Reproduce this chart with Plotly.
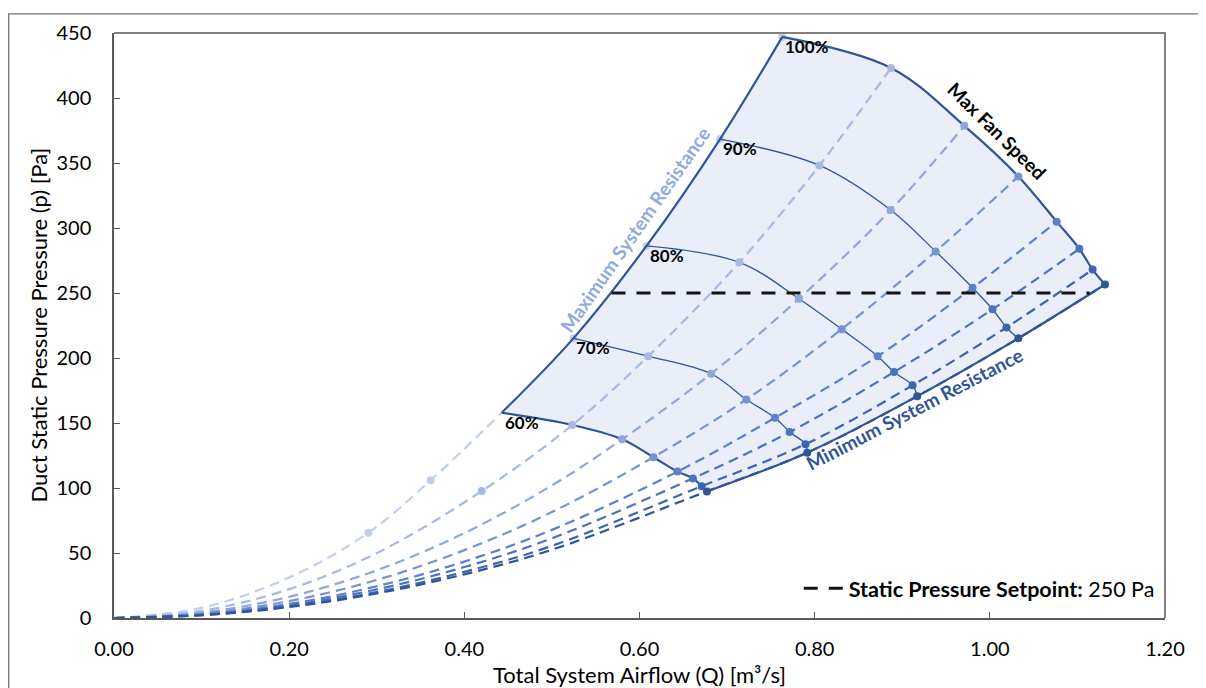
import plotly.graph_objects as go

# ---------------- data ----------------
SPEED_LABELS = ["60%", "70%", "80%", "90%", "100%"]

# Operating points: one row per system curve (max resistance -> min resistance),
# one column per fan speed (60, 70, 80, 90, 100 %)
Q_OP = [
    [0.4427, 0.5245, 0.6080, 0.6920, 0.7630],
    [0.5234, 0.6100, 0.7140, 0.8054, 0.8872],
    [0.5802, 0.6817, 0.7820, 0.8868, 0.9709],
    [0.6158, 0.7220, 0.8308, 0.9381, 1.0326],
    [0.6434, 0.7547, 0.8719, 0.9803, 1.0763],
    [0.6610, 0.7715, 0.8906, 1.0031, 1.1022],
    [0.6710, 0.7895, 0.9118, 1.0190, 1.1174],
    [0.6770, 0.7915, 0.9171, 1.0325, 1.1315],
]
P_OP = [
    [157.9, 215.1, 286.2, 368.4, 447.0],
    [148.5, 201.4, 273.6, 348.1, 423.1],
    [137.5, 187.9, 245.6, 313.8, 378.6],
    [123.7, 168.1, 222.2, 282.0, 339.7],
    [112.6, 154.0, 201.4, 254.0, 304.9],
    [107.4, 143.1, 189.2, 237.5, 284.0],
    [101.4, 133.7, 179.0, 223.5, 268.0],
    [97.4, 127.2, 170.6, 215.1, 256.5],
]

# Low-speed markers (below 60 %) on the two steepest system curves
Q_LOW_MARK = [[0.2904, 0.3616], [0.4198]]
P_LOW_MARK = [[65.6, 106.0], [97.6]]

# System-curve points read between the origin and the first marker
Q_TAIL = [0.0, 0.1, 0.2, 0.3, 0.4, 0.5]
P_TAIL = [
    [0, 7.8, 31.2],
    [0, 5.5, 22.2, 49.9],
    [0, 4.1, 16.3, 36.7, 65.3, 102.0],
    [0, 3.3, 13.0, 29.3, 52.2, 81.5],
    [0, 2.7, 10.8, 24.4, 43.4, 67.8],
    [0, 2.45, 9.8, 22.0, 39.2, 61.3],
    [0, 2.2, 8.9, 20.0, 35.5, 55.5],
    [0, 2.1, 8.4, 18.9, 33.6, 52.5],
]

SETPOINT_Q = [0.568, 1.114]
SETPOINT_P = [250, 250]

X_TICKS = [0.0, 0.2, 0.4, 0.6, 0.8, 1.0, 1.2]
Y_TICKS = [0, 50, 100, 150, 200, 250, 300, 350, 400, 450]

# ---------------- styles ----------------
FONT = "Lato"
CURVE_COLORS = ["#C3CEEA", "#A8B9E2", "#8EA6DA", "#7393D2", "#5B81CB",
                "#4A72C0", "#3C64B1", "#2F5597"]
DARK = "#2F5597"
FILL = "#E9EEF8"

fig = go.Figure()

n = len(Q_OP)

# shaded operating region: start mid-way on the 100 % curve so the closed spline keeps sharp corners
reg_q = [Q_OP[i][4] for i in range(1, n)] + [Q_OP[n - 1][j] for j in range(4, -1, -1)] \
    + [Q_OP[i][0] for i in range(n - 1, -1, -1)] + [Q_OP[0][j] for j in range(5)] \
    + [Q_OP[0][4], Q_OP[1][4]]
reg_p = [P_OP[i][4] for i in range(1, n)] + [P_OP[n - 1][j] for j in range(4, -1, -1)] \
    + [P_OP[i][0] for i in range(n - 1, -1, -1)] + [P_OP[0][j] for j in range(5)] \
    + [P_OP[0][4], P_OP[1][4]]
fig.add_trace(go.Scatter(x=reg_q, y=reg_p, mode="lines", fill="toself", fillcolor=FILL,
                         line=dict(width=0, shape="spline", simplify=False, color=FILL),
                         hoverinfo="skip", showlegend=False))

# dashed system curves
for i in range(n):
    tail_q = Q_TAIL[:len(P_TAIL[i])]
    tail_p = P_TAIL[i]
    lq = Q_LOW_MARK[i] if i < len(Q_LOW_MARK) else []
    lp = P_LOW_MARK[i] if i < len(P_LOW_MARK) else []
    op_q = Q_OP[i][:1] if i == 0 else Q_OP[i]
    op_p = P_OP[i][:1] if i == 0 else P_OP[i]
    fig.add_trace(go.Scatter(x=tail_q + lq + op_q, y=tail_p + lp + op_p, mode="lines",
                             line=dict(color=CURVE_COLORS[i], width=2.2, dash="10px,6px",
                                       shape="spline", simplify=False),
                             hoverinfo="skip", showlegend=False))

# markers of the max-resistance curve (sit under its boundary line)
fig.add_trace(go.Scatter(x=Q_LOW_MARK[0] + Q_OP[0][1:], y=P_LOW_MARK[0] + P_OP[0][1:], mode="markers",
                         marker=dict(color=CURVE_COLORS[0], size=8), showlegend=False))

# fan curves (60 .. 100 %)
for j in range(5):
    w = 2.2 if j in (0, 4) else 1.3
    fig.add_trace(go.Scatter(x=[Q_OP[i][j] for i in range(n)], y=[P_OP[i][j] for i in range(n)],
                             mode="lines", line=dict(color=DARK, width=w, shape="spline"),
                             hoverinfo="skip", showlegend=False))

# system resistance boundaries
for i in (0, n - 1):
    fig.add_trace(go.Scatter(x=Q_OP[i], y=P_OP[i], mode="lines",
                             line=dict(color=DARK, width=2.2, shape="spline"),
                             hoverinfo="skip", showlegend=False))

# markers on other system curves
for i in range(1, n):
    lq = Q_LOW_MARK[i] if i < len(Q_LOW_MARK) else []
    lp = P_LOW_MARK[i] if i < len(P_LOW_MARK) else []
    fig.add_trace(go.Scatter(x=lq + Q_OP[i], y=lp + P_OP[i], mode="markers",
                             marker=dict(color=CURVE_COLORS[i], size=8), showlegend=False))

# static pressure setpoint
fig.add_trace(go.Scatter(x=SETPOINT_Q, y=SETPOINT_P, mode="lines",
                         line=dict(color="#141414", width=3, dash="14px,11px"),
                         name="<b>Static Pressure Setpoint:</b> 250 Pa", showlegend=True))

annotations = []
for j, lab in enumerate(SPEED_LABELS):
    annotations.append(dict(x=Q_OP[0][j], y=P_OP[0][j], text=f"<b>{lab}</b>", showarrow=False,
                            xanchor="left", yanchor="top", xshift=1, yshift=3,
                            font=dict(family=FONT, size=17, color="#000000")))

annotations += [
    dict(x=1.008, y=375.0, text="<b>Max Fan Speed</b>", textangle=44.5, showarrow=False,
         font=dict(family=FONT, size=19, color="#000000")),
    dict(x=0.595, y=298.5, text="<b>Maximum System Resistance</b>", textangle=-55, showarrow=False,
         font=dict(family=FONT, size=19, color="#8FAADC")),
    dict(x=0.9145, y=161.0, text="<b>Minimum System Resistance</b>", textangle=-27.5, showarrow=False,
         font=dict(family=FONT, size=19, color=DARK)),
    dict(xref="paper", yref="paper", x=0.5, y=0, yshift=-56, xanchor="center", yanchor="middle",
         text="Total System Airflow (Q) [m³/s]", showarrow=False,
         font=dict(family=FONT, size=22, color="#000000")),
    dict(xref="paper", yref="paper", x=0, y=0.5, xshift=-76, xanchor="center", yanchor="middle",
         textangle=-90, text="Duct Static Pressure Pressure (p) [Pa]", showarrow=False,
         font=dict(family=FONT, size=22, color="#000000")),
]

shapes = [
    # plot-area border (top & right)
    dict(type="path", xref="paper", yref="paper", path="M 0,1 L 1,1 L 1,0",
         line=dict(color="#808080", width=2), layer="above"),
    # outer chart border
    dict(type="path", xref="paper", yref="paper",
         path="M -0.1002,-0.3 L -0.1002,1.0327 L 1.2,1.0327",
         line=dict(color="#767676", width=1.3), layer="above"),
]

fig.update_layout(
    width=1198, height=680,
    margin=dict(l=106, r=41, t=20, b=70),
    paper_bgcolor="white", plot_bgcolor="white",
    font=dict(family=FONT, color="#000000"),
    annotations=annotations, shapes=shapes,
    legend=dict(x=0.995, y=0.051, xanchor="right", yanchor="middle",
                bgcolor="rgba(0,0,0,0)", font=dict(family=FONT, size=21.5, color="#000000"),
                itemwidth=40),
    xaxis=dict(range=[0, 1.2], tickvals=X_TICKS, tickformat=".2f", showgrid=False, zeroline=False,
               showline=True, linecolor="#595959", linewidth=1.5, ticks="inside", ticklen=6,
               tickcolor="#595959", tickfont=dict(family=FONT, size=20), ticklabelstandoff=12),
    yaxis=dict(range=[0, 450], tickvals=Y_TICKS, showgrid=False, zeroline=False,
               showline=True, linecolor="#595959", linewidth=1.5, ticks="inside", ticklen=6,
               tickcolor="#595959", tickfont=dict(family=FONT, size=20), ticklabelstandoff=17),
)

fig.write_html("out.html")
